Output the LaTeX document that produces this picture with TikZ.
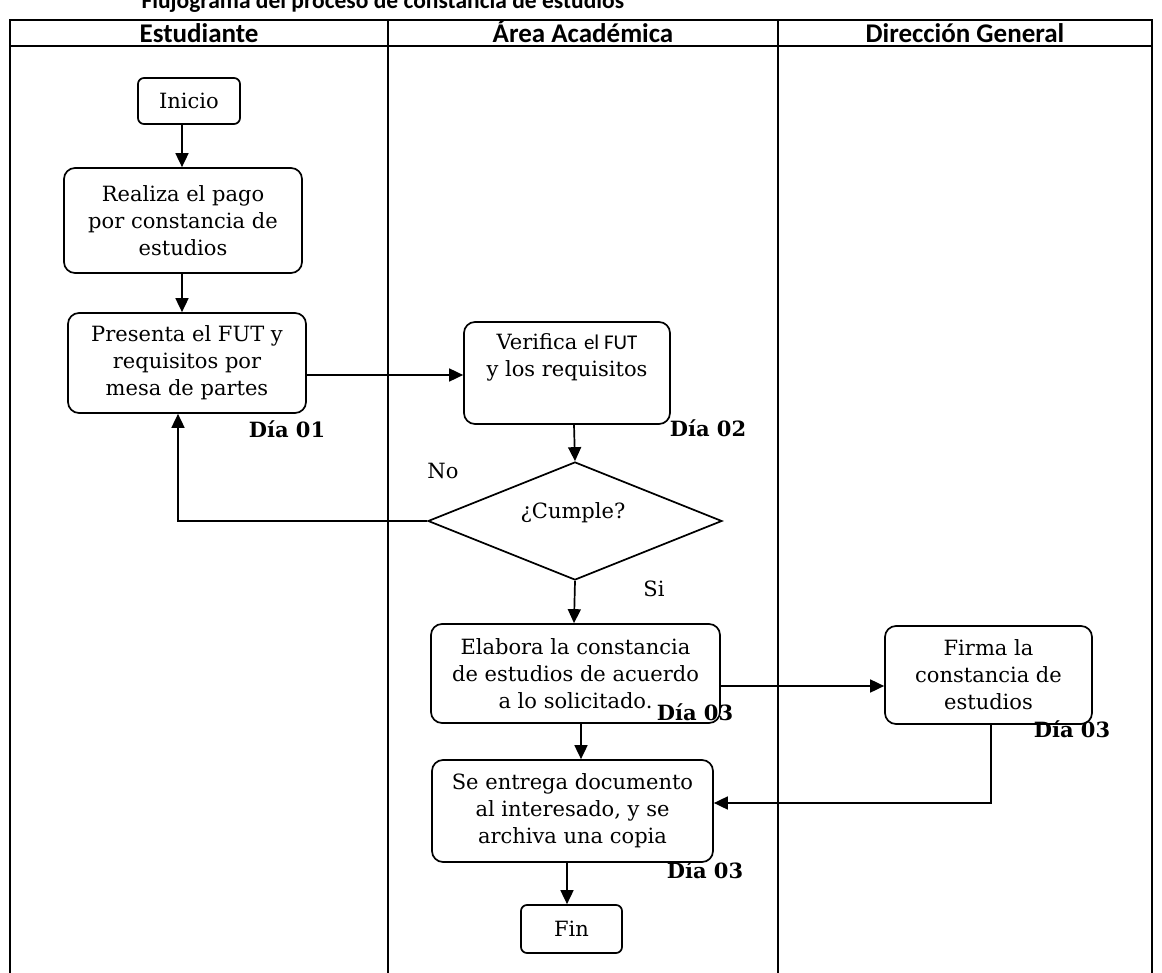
\documentclass[tikz,border=0pt]{standalone}
\usepackage{fontspec}
\setmainfont{DejaVu Serif}
\newfontfamily\hdrfont{Carlito}
\usetikzlibrary{shapes.geometric,arrows.meta}
\begin{document}
\begin{tikzpicture}[x=1pt,y=-1pt,
  box/.style={draw,line width=1.7pt,rounded corners=11pt,align=center,font=\fontsize{21}{27}\selectfont,inner sep=0pt},
  lane/.style={draw,line width=1.5pt},
  hdr/.style={anchor=base,font=\hdrfont\bfseries\fontsize{27}{30}\selectfont},
  dia/.style={font=\bfseries\fontsize{21}{23}\selectfont},
  lbl/.style={font=\fontsize{21}{23}\selectfont},
  arr/.style={line width=1.7pt,-{Triangle[length=14pt,width=13pt]}},
  ln/.style={line width=1.7pt}]
\useasboundingbox (0,0) rectangle (1162,973);
\begin{scope}
\clip (0,0) rectangle (1162,973);
\node[anchor=base west,font=\hdrfont\bfseries\fontsize{23.5}{26}\selectfont] (title) at (138,9) {Flujograma del proceso de constancia de estudios};
\end{scope}
% table
\draw[lane] (10,20) rectangle (1152,975);
\draw[lane] (10,46) -- (1152,46);
\draw[lane] (388,20) -- (388,975);
\draw[lane] (778,20) -- (778,975);
\node[hdr] (h1) at (199,42.5) {Estudiante};
\node[hdr] (h2) at (583,42.5) {Área Académica};
\node[hdr] (h3) at (965,42.5) {Dirección General};
% nodes
\node[box,rounded corners=6pt,minimum width=102pt,minimum height=46pt] (inicio) at (189,101) {Inicio};
\node[box,minimum width=238pt,minimum height=105pt] (pago) at (183,220.5) {Realiza el pago\\por constancia de\\estudios};
\node[box,minimum width=238pt,minimum height=100pt] (fut) at (187,363) {Presenta el FUT y\\requisitos por\\mesa de partes};
\node[dia,anchor=base] (d1) at (287,437) {Día 01};
\node[box,minimum width=206pt,minimum height=102pt] (verif) at (567,373) {Verifica {\hdrfont el FUT}\\y los requisitos\\[8pt]};
\node[dia,anchor=base] (d2) at (708,436) {Día 02};
\node[draw,line width=1.7pt,diamond,aspect=2.5,minimum width=294pt,minimum height=118pt,inner sep=0pt] (cumple) at (575,521) {};
\node[lbl] (cumpletxt) at (573,513) {¿Cumple?};
\node[lbl,anchor=base] (no) at (443,478) {No};
\node[lbl,anchor=base] (si) at (654,596) {Si};
\node[box,minimum width=289pt,minimum height=99pt] (elab) at (575.5,673.5) {Elabora la constancia\\de estudios de acuerdo\\a lo solicitado.};
\node[dia,anchor=base] (d3a) at (695,720) {Día 03};
\node[box,minimum width=207pt,minimum height=98pt] (firma) at (988.5,675) {Firma la\\constancia de\\estudios};
\node[dia,anchor=base] (d3b) at (1072,737) {Día 03};
\node[box,minimum width=281pt,minimum height=102pt] (entrega) at (572.5,811) {Se entrega documento\\al interesado, y se\\archiva una copia};
\node[dia,anchor=base] (d3c) at (705,878) {Día 03};
\node[box,rounded corners=6pt,minimum width=101pt,minimum height=48pt] (fin) at (571.5,929) {Fin};
% connectors
\draw[arr] (inicio.south -| 182,0) -- (pago.north -| 182,0);
\draw[arr] (pago.south -| 182,0) -- (fut.north -| 182,0);
\draw[arr] (fut.east |- 0,375) -- (verif.west |- 0,375);
\draw[arr] (verif.south -| 574,0) -- (cumple.north);
\draw[arr] (cumple.west) -- (178,521) -- (fut.south -| 178,0);
\draw[arr] (cumple.south) -- (elab.north -| 574,0);
\draw[arr] (elab.east |- 0,686) -- (firma.west |- 0,686);
\draw[arr] (elab.south -| 581,0) -- (entrega.north -| 581,0);
\draw[arr] (firma.south -| 991,0) -- (991,803) -- (entrega.east |- 0,803);
\draw[arr] (entrega.south -| 567,0) -- (fin.north -| 567,0);
\end{tikzpicture}
\end{document}
